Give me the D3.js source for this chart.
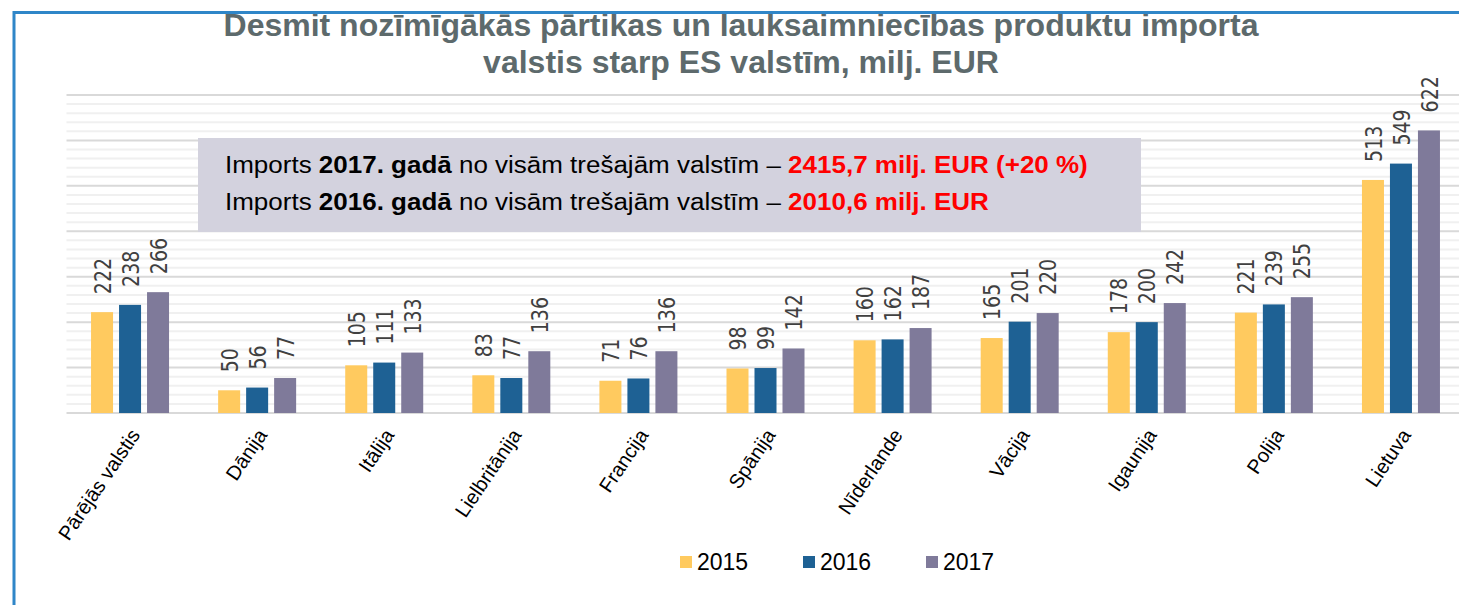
<!DOCTYPE html>
<html>
<head>
<meta charset="utf-8">
<script src="https://cdn.jsdelivr.net/npm/d3@7"></script>
<style>
  body { margin: 0; background: #fff; }
  svg { display: block; }
</style>
</head>
<body>
<svg id="chart"></svg>
<script>
const categories = ["Pārējās valstis", "Dānija", "Itālija", "Lielbritānija", "Francija", "Spānija",
    "Nīderlande", "Vācija", "Igaunija", "Polija", "Lietuva"];
const years = ["2015", "2016", "2017"];
const v2015 = [222, 50, 105, 83, 71, 98, 160, 165, 178, 221, 513];
const v2016 = [238, 56, 111, 77, 76, 99, 162, 201, 200, 239, 549];
const v2017 = [266, 77, 133, 136, 136, 142, 187, 220, 242, 255, 622];
const titleLines = ["Desmit nozīmīgākās pārtikas un lauksaimniecības produktu importa",
    "valstis starp ES valstīm, milj. EUR"];
const note = [
    ["Imports ", "2017. gadā", " no visām trešajām valstīm – ", "2415,7 milj. EUR (+20 %)"],
    ["Imports ", "2016. gadā", " no visām trešajām valstīm – ", "2010,6 milj. EUR"]
];

let width = 1459, height = 605;

const series = [v2015, v2016, v2017];
const color = d3.scaleOrdinal()
    .domain(years)
    .range(["#ffca5f", "#1e6194", "#7f7a9a"]);

const x = d3.scaleBand()
    .domain(categories)
    .range([66.5, 1464.5]);

const xSub = d3.scaleBand()
    .domain(years)
    .range([-39, 39])
    .paddingInner(0.214);

const y = d3.scaleLinear()
    .domain([0, 700])
    .range([413, 95]);

const svg = d3.select("#chart")
    .attr("width", width)
    .attr("height", height);

// grid: minor every 20, major every 100
svg.append("g")
    .selectAll("line")
    .data(d3.range(20, 700, 20).filter(v => v % 100 !== 0))
    .join("line")
    .attr("x1", 66.5).attr("x2", width)
    .attr("y1", d => y(d)).attr("y2", d => y(d))
    .attr("stroke", "#f0f0f0")
    .attr("stroke-width", 2);

svg.append("g")
    .selectAll("line")
    .data(d3.range(0, 701, 100))
    .join("line")
    .attr("x1", 66.5).attr("x2", width)
    .attr("y1", d => y(d)).attr("y2", d => y(d))
    .attr("stroke", "#d9d9d9")
    .attr("stroke-width", 2);

// bars
const groups = svg.append("g")
    .selectAll("g")
    .data(categories)
    .join("g")
    .attr("transform", d => "translate(" + (x(d) + x.bandwidth() / 2) + ",0)");

groups.selectAll("rect")
    .data((d, i) => years.map((yr, j) => ({ yr, v: series[j][i] })))
    .join("rect")
    .attr("x", d => xSub(d.yr))
    .attr("width", xSub.bandwidth())
    .attr("y", d => y(d.v))
    .attr("height", d => y(0) - y(d.v))
    .attr("fill", d => color(d.yr));

groups.selectAll("text")
    .data((d, i) => years.map((yr, j) => ({ yr, v: series[j][i] })))
    .join("text")
    .attr("transform", d => "translate(" + (xSub(d.yr) + xSub.bandwidth() / 2) + "," + (y(d.v) - 18) + ") rotate(-90) scale(1,1.25)")
    .attr("dy", "0.36em")
    .attr("font-family", "DejaVu Sans")
    .attr("font-size", "19px")
    .attr("fill", "#404040")
    .text(d => d.v);

// category labels
const xAxis = svg.append("g")
    .attr("transform", "translate(0,413)")
    .call(d3.axisBottom(x).tickSize(0).tickPadding(0));
xAxis.select(".domain").remove();
xAxis.selectAll("text")
    .attr("font-family", "Liberation Sans, Arial, sans-serif")
    .attr("font-size", "20px")
    .attr("fill", "#000")
    .attr("text-anchor", "end")
    .attr("dy", "0.35em")
    .attr("transform", "translate(5,18) rotate(-56)");

// annotation box
svg.append("rect")
    .attr("x", 198).attr("y", 138)
    .attr("width", 943).attr("height", 94)
    .attr("fill", "#d3d2de");

note.forEach((parts, i) => {
    const t = svg.append("text")
        .attr("transform", "translate(225," + (173 + i * 37) + ") scale(1.13,1)")
        .attr("font-family", "Liberation Sans, Arial, sans-serif")
        .attr("font-size", "23px")
        .attr("fill", "#000");
    parts.forEach((p, k) => {
        t.append("tspan")
            .attr("font-weight", k % 2 === 1 ? "bold" : "normal")
            .attr("fill", k === 3 ? "#ff0000" : "#000")
            .text(p);
    });
});

// title
svg.append("g")
    .selectAll("text")
    .data(titleLines)
    .join("text")
    .attr("x", 741)
    .attr("y", (d, i) => 36 + i * 36.5)
    .attr("text-anchor", "middle")
    .attr("font-family", "Liberation Sans, Arial, sans-serif")
    .attr("font-size", "32px")
    .attr("font-weight", "bold")
    .attr("fill", "#5d6a6c")
    .text(d => d);

// legend
const legend = svg.append("g")
    .selectAll("g")
    .data(years)
    .join("g")
    .attr("transform", (d, i) => "translate(" + (680 + i * 123) + ",556)");

legend.append("rect")
    .attr("width", 12).attr("height", 12)
    .attr("fill", d => color(d));

legend.append("text")
    .attr("x", 17).attr("y", 14)
    .attr("font-family", "Liberation Sans, Arial, sans-serif")
    .attr("font-size", "23px")
    .attr("fill", "#000")
    .text(d => d);

// frame (extends past the right and bottom edges)
svg.append("rect")
    .attr("x", 14).attr("y", 12.5)
    .attr("width", width).attr("height", height)
    .attr("fill", "none")
    .attr("stroke", "#2f86c8")
    .attr("stroke-width", 3);
</script>
</body>
</html>
